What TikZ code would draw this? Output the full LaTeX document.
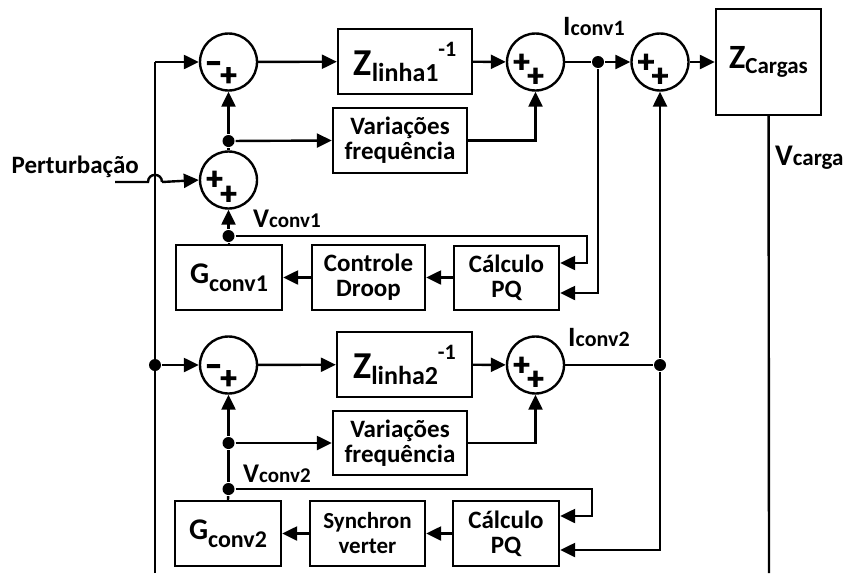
\documentclass[tikz,border=0pt]{standalone}
\usepackage{fontspec}
\setmainfont{Carlito}
\newfontfamily\signfam{Carlito}[FakeBold=3]
\usetikzlibrary{arrows.meta}
\newcommand\boxfont{\fontsize{25}{25}\selectfont\bfseries}
\newcommand\signfont{\fontsize{32}{32}\selectfont\signfam\bfseries}
\begin{document}
\begin{tikzpicture}[x=1pt,y=-1pt,line width=2.4pt,>={Triangle[length=15pt,width=14pt]},
  sum/.style={circle,draw,minimum size=57pt,inner sep=0pt},
  blk/.style={draw,rectangle,inner sep=0pt,align=center,font=\boxfont},
  dot/.style={circle,fill,inner sep=0pt,minimum size=12pt},
  sgn/.style={inner sep=0pt,font=\signfont},
  lbl/.style={inner sep=0pt,anchor=base west,font=\bfseries}]
\useasboundingbox (0,0) rectangle (843,573);

% ---------- summing junctions ----------
\node[sum] (s1) at (228.5,62) {};
\node[sum] (s2) at (535.5,62) {};
\node[sum] (s3) at (660,62) {};
\node[sum] (s4) at (228.5,180) {};
\node[sum] (s5) at (228.5,365) {};
\node[sum] (s6) at (535.5,365) {};

\node[sgn] (s1a) at (213.5,67.5) {\char"2212};
\node[sgn] (s1b) at (228.5,76.5) {+};
\node[sgn] (s2a) at (521.5,63) {+};
\node[sgn] (s2b) at (535.5,77) {+};
\node[sgn] (s3a) at (646,63) {+};
\node[sgn] (s3b) at (660,77) {+};
\node[sgn] (s4a) at (214.5,180) {+};
\node[sgn] (s4b) at (228.5,195) {+};
\node[sgn] (s5a) at (213.5,370.5) {\char"2212};
\node[sgn] (s5b) at (228.5,379.5) {+};
\node[sgn] (s6a) at (521.5,366) {+};
\node[sgn] (s6b) at (535.5,380) {+};

% ---------- blocks ----------
\node[blk,minimum width=134pt,minimum height=65pt] (z1) at (405,61.5)
  {{\fontsize{38}{38}\selectfont Z}\raisebox{-6pt}{\fontsize{26}{26}\selectfont linha1}\raisebox{19pt}{\fontsize{22}{22}\selectfont -1}};
\node[blk,minimum width=134pt,minimum height=65pt] (vf1) at (400,140.5) {Variações\\frequência};
\node[blk,minimum width=105pt,minimum height=106pt] (zc) at (768.5,62)
  {{\fontsize{34}{34}\selectfont Z}\raisebox{-5pt}{\fontsize{23}{23}\selectfont Cargas}};
\node[blk,minimum width=106pt,minimum height=65pt] (g1) at (229,277.5)
  {{\fontsize{30}{30}\selectfont G}\raisebox{-8pt}{\fontsize{24}{24}\selectfont conv1}};
\node[blk,minimum width=113pt,minimum height=65pt] (cd) at (368.5,277.5) {Controle\\Droop};
\node[blk,minimum width=105pt,minimum height=64pt] (pq1) at (506.5,278) {Cálculo\\PQ};

\node[blk,minimum width=135pt,minimum height=65pt] (z2) at (404.5,364.5)
  {{\fontsize{38}{38}\selectfont Z}\raisebox{-6pt}{\fontsize{26}{26}\selectfont linha2}\raisebox{19pt}{\fontsize{22}{22}\selectfont -1}};
\node[blk,minimum width=134pt,minimum height=64pt] (vf2) at (400,443) {Variações\\frequência};
\node[blk,minimum width=106pt,minimum height=65pt] (g2) at (228,533.5)
  {{\fontsize{30}{30}\selectfont G}\raisebox{-8pt}{\fontsize{24}{24}\selectfont conv2}};
\node[blk,minimum width=115pt,minimum height=65pt] (sv) at (367.5,533.5) {{\fontsize{23}{24}\selectfont Synchron}\\{\fontsize{23}{24}\selectfont verter}};
\node[blk,minimum width=106pt,minimum height=65pt] (pq2) at (506,533.5) {Cálculo\\PQ};

% ---------- dots ----------
\node[dot] (d1) at (228.5,141) {};
\node[dot] (d2) at (598,62) {};
\node[dot] (d3) at (228.5,236) {};
\node[dot] (d4) at (155,365) {};
\node[dot] (d5) at (660,365) {};
\node[dot] (d6) at (228.5,443) {};
\node[dot] (d7) at (228.5,489) {};

% ---------- labels ----------
\node[lbl] (li1) at (562,35) {{\fontsize{28}{28}\selectfont I}{\fontsize{22}{22}\selectfont conv1}};
\node[lbl] (li2) at (567,346) {{\fontsize{28}{28}\selectfont I}{\fontsize{22}{22}\selectfont conv2}};
\node[lbl] (lv1) at (252,227) {{\fontsize{27}{27}\selectfont V}{\fontsize{21}{21}\selectfont conv1}};
\node[lbl] (lv2) at (242,482) {{\fontsize{27}{27}\selectfont V}{\fontsize{21}{21}\selectfont conv2}};
\node[lbl] (lvc) at (774,165) {{\fontsize{30}{30}\selectfont V}{\fontsize{23}{23}\selectfont carga}};
\node[lbl,anchor=base east,font=\boxfont] (pert) at (140,173) {Perturbação};

% ---------- coordinates ----------
\coordinate (bustop) at (155,62);
\coordinate (busbot) at (155,573);
\coordinate (vcbot) at (769,573);
\coordinate (pin) at (115,182);
\coordinate (h1) at (148,182);
\coordinate (h2) at (162,182);
\coordinate (c1a) at (587,236);
\coordinate (c1b) at (587,263);
\coordinate (c1c) at (598,293);
\coordinate (c2a) at (592,489);
\coordinate (c2b) at (592,516);
\coordinate (c2c) at (660,550);

% ---------- connectors ----------
\draw (busbot) -- (bustop);
\draw[->] (bustop) -- (s1.west);
\draw[->] (s1) -- (z1);
\draw[->] (z1) -- (s2);
\draw (s2) -- (d2);
\draw[->] (d2) -- (s3);
\draw[->] (s3) -- (zc);
\draw (zc) -- (vcbot);
\draw[->] (vf1.east) -| (s2.south);
\draw[->] (d1) -- (vf1.west);
\draw[->] (d1) -- (s1.south);
\draw (s4.north) -- (d1);
\draw (pin) -- (h1) .. controls (148,172.5) and (162,172.5) .. (h2);
\draw[->] (h2) -- (s4.west);
\draw[->] (d3) -- (s4.south);
\draw (g1.north) -- (d3);
\draw[->] (d3) -- (c1a) -- (c1b) -- (pq1.east |- c1b);
\draw[->] (d2) -- (c1c) -- (pq1.east |- c1c);
\draw[->] (pq1.west |- cd.east) -- (cd.east);
\draw[->] (cd.west) -- (g1.east);

\draw[->] (d4) -- (s5.west);
\draw[->] (s5) -- (z2);
\draw[->] (z2) -- (s6);
\draw (s6) -- (d5);
\draw[->] (d5) -- (s3.south);
\draw[->] (d5) -- (c2c) -- (pq2.east |- c2c);
\draw[->] (vf2.east) -| (s6.south);
\draw[->] (d6) -- (vf2.west);
\draw[->] (d6) -- (s5.south);
\draw (d7) -- (d6);
\draw (g2.north) -- (d7);
\draw[->] (d7) -- (c2a) -- (c2b) -- (pq2.east |- c2b);
\draw[->] (pq2.west) -- (sv.east);
\draw[->] (sv.west) -- (g2.east);
\end{tikzpicture}
\end{document}
